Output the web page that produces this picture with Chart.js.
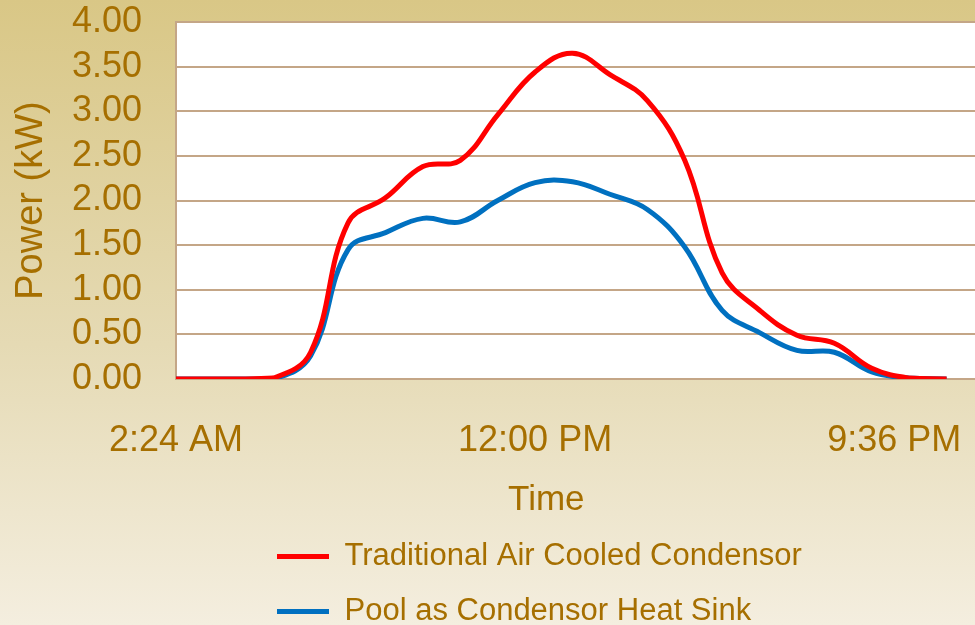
<!DOCTYPE html>
<html>
<head>
<meta charset="utf-8">
<script src="https://cdn.jsdelivr.net/npm/chart.js@4.4.0/dist/chart.umd.min.js"></script>
<style>
  html, body { margin: 0; padding: 0; }
  body {
    width: 975px; height: 625px; overflow: hidden;
    background: linear-gradient(to bottom, #d9c786 0%, #e5dab4 55%, #f4eedf 100%);
  }
  #wrap { position: relative; width: 975px; height: 625px; }
</style>
</head>
<body>
<div id="wrap"><canvas id="canvas"></canvas></div>
<script>
// hourly readings, hour of day 0..23
const hours = [0,1,2,3,4,5,6,7,8,9,10,11,12,13,14,15,16,17,18,19,20,21,22,23];
const airCooled = [0,0,0,0,0,0.01,0.30,1.75,2.03,2.38,2.45,2.96,3.44,3.65,3.41,3.12,2.45,1.19,0.77,0.49,0.40,0.12,0.01,0];
const poolSink  = [0,0,0,0,0,0,0.26,1.45,1.64,1.80,1.76,2.00,2.20,2.21,2.07,1.90,1.48,0.77,0.52,0.32,0.30,0.08,0.01,0];

const xTickValues = [0.1, 0.5, 0.9];
const xTickLabels = ['2:24 AM', '12:00 PM', '9:36 PM'];

const seriesNames = ['Traditional Air Cooled Condensor', 'Pool as Condensor Heat Sink'];

const txt = '#a66f00';
const grid = '#c4a687';
const fam = '"Liberation Sans", Arial, sans-serif';

const toPts = vals => hours.map((h, i) => ({ x: h / 24, y: vals[i] }));

// white plot area
const plotBg = {
  id: 'plotBg',
  beforeDraw(chart) {
    const a = chart.chartArea, c = chart.ctx;
    c.save();
    c.fillStyle = '#ffffff';
    c.fillRect(a.left, a.top, a.right - a.left, a.bottom - a.top);
    c.restore();
  }
};

// keep the legend as a fixed block under the axis, rows left aligned
const legendFix = {
  id: 'legendFix',
  beforeLayout(chart) {
    const lg = chart.legend;
    if (lg && !lg._fixed) {
      const fit = lg.fit;
      lg.fit = function () { fit.call(this); this.height = 100; };
      lg._fixed = true;
    }
  },
  afterLayout(chart) {
    const lg = chart.legend;
    lg.left = 253;
    lg.right = 253 + 620;
    lg.top = 517;
  }
};

var ctx = document.getElementById('canvas').getContext('2d');
const myChart = new Chart(ctx, {
  type: 'line',
  data: {
    datasets: [
      {
        label: seriesNames[0],
        data: toPts(airCooled),
        borderColor: '#ff0000',
        backgroundColor: '#ff0000',
        borderWidth: 5,
        pointRadius: 0,
        tension: 0.4
      },
      {
        label: seriesNames[1],
        data: toPts(poolSink),
        borderColor: '#0070c0',
        backgroundColor: '#0070c0',
        borderWidth: 5,
        pointRadius: 0,
        tension: 0.4
      }
    ]
  },
  options: {
    responsive: true,
    maintainAspectRatio: false,
    animation: false,
    devicePixelRatio: 1,
    layout: { padding: 0 },
    plugins: {
      tooltip: { enabled: false },
      legend: {
        display: true,
        position: 'bottom',
        align: 'start',
        labels: {
          usePointStyle: true,
          pointStyle: 'line',
          pointStyleWidth: 52,
          padding: 24,
          color: txt,
          font: { family: fam, size: 31 }
        }
      }
    },
    scales: {
      x: {
        type: 'linear',
        min: 0.1,
        max: 0.99,
        afterBuildTicks(scale) {
          scale.ticks = xTickValues.map(v => ({ value: v }));
        },
        afterFit(scale) {
          scale.height = 146;
          scale.paddingLeft = 0;
          scale.paddingRight = 0;
        },
        grid: { display: false },
        border: { display: true, color: grid, width: 2 },
        ticks: {
          color: txt,
          font: { family: fam, size: 36 },
          padding: 32,
          maxRotation: 0,
          autoSkip: false,
          callback: (v, i) => xTickLabels[i]
        },
        title: {
          display: true,
          // trailing spaces nudge the centred title left, as in the original
          text: 'Time\u00a0\u00a0\u00a0\u00a0\u00a0\u00a0',
          color: txt,
          font: { family: fam, size: 35 },
          padding: { top: 0, bottom: 4 }
        }
      },
      y: {
        min: 0,
        max: 4,
        afterFit(scale) {
          scale.width = 176;
          scale.paddingTop = 22;
          scale.paddingBottom = 0;
        },
        grid: { color: grid, lineWidth: 2, drawTicks: false },
        border: { display: true, color: grid, width: 2 },
        ticks: {
          stepSize: 0.5,
          autoSkip: false,
          color: txt,
          font: { family: fam, size: 36 },
          padding: 34,
          callback: v => v.toFixed(2)
        },
        title: {
          display: true,
          text: 'Power (kW)',
          color: txt,
          font: { family: fam, size: 38 },
          padding: { top: 9, bottom: 0 }
        }
      }
    }
  },
  plugins: [plotBg, legendFix]
});
</script>
</body>
</html>
